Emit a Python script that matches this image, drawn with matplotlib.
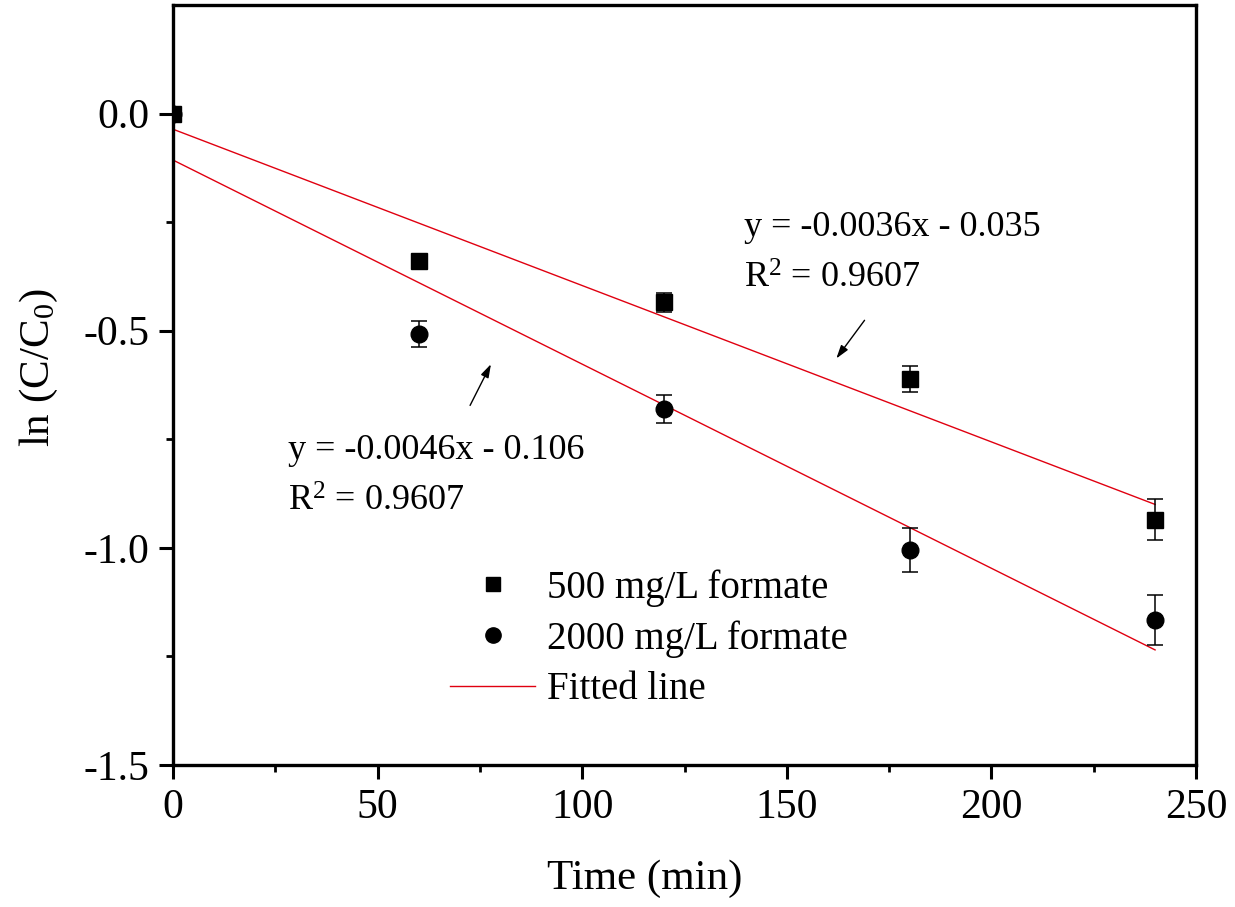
"""
  ln(C/C0) vs time for two formate concentrations, with linear fits.
"""
import numpy as np
import matplotlib
matplotlib.use("Agg")
import matplotlib.pyplot as plt
from matplotlib.lines import Line2D

plt.rcParams["font.family"] = ["Liberation Serif", "DejaVu Serif"]
plt.rcParams["mathtext.fontset"] = "custom"
plt.rcParams["mathtext.rm"] = "Liberation Serif"
plt.rcParams["mathtext.default"] = "regular"

# Data
time_min = [0, 60, 120, 180, 240]
lnc_500 = [0.0, -0.339, -0.435, -0.611, -0.935]
err_500 = [0.0, 0.012, 0.021, 0.030, 0.047]
lnc_2000 = [0.0, -0.507, -0.680, -1.005, -1.166]
err_2000 = [0.0, 0.030, 0.033, 0.050, 0.057]

# fitted lines (slope, intercept) as drawn
fit_500 = (-0.0036, -0.036)
fit_2000 = (-0.0047, -0.107)
fit_x = [0, 240]

eq_500 = ["y = -0.0036x - 0.035", "R$^2$ = 0.9607"]
eq_2000 = ["y = -0.0046x - 0.106", "R$^2$ = 0.9607"]
legend_labels = ["500 mg/L formate", "2000 mg/L formate", "Fitted line"]

red = "#e00010"
W, H = 1235, 907
fig = plt.figure(figsize=(W / 100, H / 100), dpi=100)
ax = fig.add_axes([173 / W, 1 - 765 / H, (1196 - 173) / W, (765 - 5) / H])

fx = np.array(fit_x)
ax.plot(fx, fit_500[0] * fx + fit_500[1], color=red, lw=1.0, zorder=2)
ax.plot(fx, fit_2000[0] * fx + fit_2000[1], color=red, lw=1.0, zorder=2)

ax.errorbar(time_min, lnc_2000, yerr=err_2000, fmt="o", color="k", ms=12,
            capsize=5.5, elinewidth=1.1, capthick=1.1, zorder=3)
ax.errorbar(time_min, lnc_500, yerr=err_500, fmt="s", color="k", ms=11,
            capsize=5.5, elinewidth=1.1, capthick=1.1, zorder=4)

ax.set_xlim(0, 250)
ax.set_ylim(-1.5, 0.25)
ax.set_xticks([0, 50, 100, 150, 200, 250])
ax.set_xticks([25, 75, 125, 175, 225], minor=True)
ax.set_yticks([-1.5, -1.0, -0.5, 0.0])
ax.set_yticks([-1.25, -0.75, -0.25], minor=True)
ax.yaxis.set_major_formatter(matplotlib.ticker.FormatStrFormatter("%.1f"))

for s in ax.spines.values():
    s.set_linewidth(2.4)
ax.tick_params(which="major", direction="out", length=10, width=2.2,
               labelsize=30, pad=7, top=False, right=False)
ax.tick_params(which="minor", direction="out", length=5, width=2.0,
               top=False, right=False)

ax.set_xlabel("Time (min)", fontsize=31)
ax.set_ylabel("ln (C/C$_0$)", fontsize=31)
ax.xaxis.set_label_coords((645 - 173) / 1023, -(860 - 765) / 760)
ax.yaxis.set_label_coords((60 - 173) / 1023, (765 - 368) / 760)

# equations
ax.text(139.6, -0.262, eq_500[0], fontsize=26, ha="left", va="center")
ax.text(139.6, -0.381, eq_500[1], fontsize=26, ha="left", va="center")
ax.text(28.1, -0.775, eq_2000[0], fontsize=26, ha="left", va="center")
ax.text(28.1, -0.895, eq_2000[1], fontsize=26, ha="left", va="center")

arrow = dict(arrowstyle="-|>,head_length=0.8,head_width=0.25", color="k",
             lw=1.0, shrinkA=0, shrinkB=0)
ax.annotate("", xy=(162.1, -0.564), xytext=(169.0, -0.476), arrowprops=arrow)
ax.annotate("", xy=(77.7, -0.577), xytext=(72.6, -0.672), arrowprops=arrow)

handles = [Line2D([], [], ls="none", marker="s", color="k", ms=10),
           Line2D([], [], ls="none", marker="o", color="k", ms=11),
           Line2D([], [], color=red, lw=1.0)]
ax.legend(handles, legend_labels, loc="upper left",
          bbox_to_anchor=(0.244, 0.293), frameon=False, fontsize=28,
          handlelength=2.2, handletextpad=0.3, labelspacing=0.34,
          borderpad=0.2)

fig.savefig("out.png", dpi=100)
